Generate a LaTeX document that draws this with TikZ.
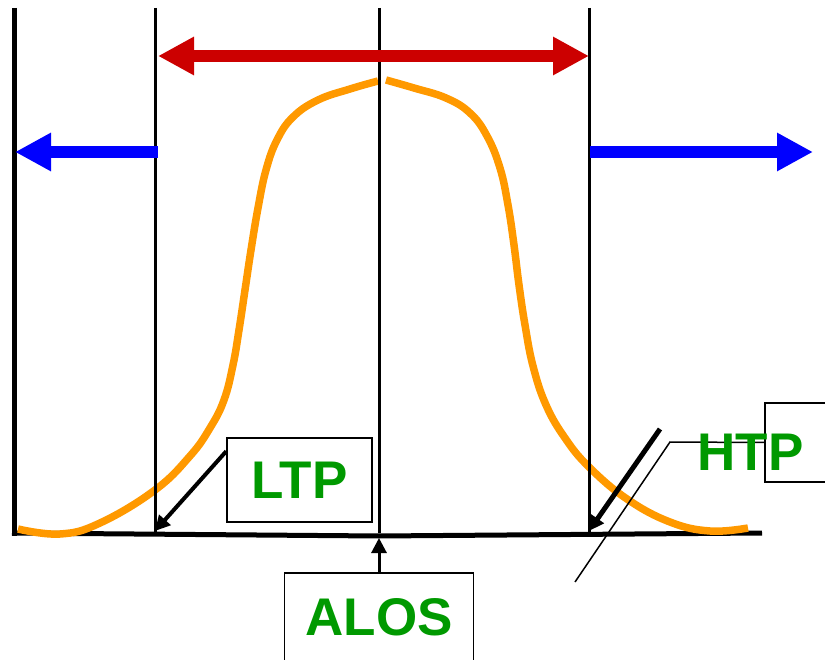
\documentclass[tikz,border=0pt]{standalone}
\usepackage{fontspec}
\setmainfont{Liberation Sans}
\usetikzlibrary{arrows.meta}
\definecolor{curveorange}{HTML}{FF9900}
\definecolor{spanred}{HTML}{CC0000}
\definecolor{shiftblue}{HTML}{0000FF}
\definecolor{labelgreen}{HTML}{009900}

\begin{document}
\begin{tikzpicture}[
  x=1pt, y=-1pt,
  every node/.style={font=\fontsize{53}{60}\selectfont\bfseries, text=labelgreen, inner sep=0pt},
  box/.style={draw=black, line width=1.5pt},
  wide/.style={line width=12pt, -{Triangle[length=36pt,width=36pt]}},
  span/.style={line width=12pt, {Triangle[length=36pt,width=36pt]}-{Triangle[length=36pt,width=36pt]}},
  ptr/.style={-{Triangle[length=15pt,width=15pt]}, draw=black},
  bell/.style={draw=curveorange, line width=7.5pt}
]
\clip (0,0) rectangle (825,660);
% axes
\draw[line width=5pt] (14,8) -- (14,536);
\draw[line width=5pt] (12,533) -- (379,536) -- (762,533);
% distribution
\draw[bell] plot[smooth, tension=0.7] coordinates {(18,529) (60,534) (100,523) (155,490) (190,456) (210,428) (224,400) (233,365) (239,330) (245,290) (251,250) (258,208) (266,170) (277,140) (293,117) (318,100) (350,89) (378,81)};
\draw[bell] plot[smooth, tension=0.7] coordinates {(386,80) (414,88) (446,98) (470,113) (487,136) (500,168) (508,205) (514,245) (519,285) (525,325) (533,366) (546,405) (565,438) (589,467) (627,499) (670,522) (710,531) (748,528)};
% limits
\foreach \xpos in {155,379,589}
  \draw[line width=3pt] (\xpos,8) -- (\xpos,533);
% arrows
\coordinate (spanleft) at (158,56);
\coordinate (spanright) at (589,56);
\coordinate (lowstart) at (158,152);
\coordinate (lowend) at (15,152);
\coordinate (highstart) at (590,152);
\coordinate (highend) at (813,152);
\draw[span, spanred] (spanleft) -- (spanright);
\draw[wide, shiftblue] (lowstart) -- (lowend);
\draw[wide, shiftblue] (highstart) -- (highend);
% labels
\node[box, minimum width=145pt, minimum height=84pt] (ltp) at (299.5,480) {LTP};
\node[box, minimum width=189pt, minimum height=88pt] (alos) at (379,617) {ALOS};
\node[box, minimum width=110pt, minimum height=79pt] (htpbox) at (820,442.5) {};
\coordinate (ltpfoot) at (155,531);
\coordinate (alosfoot) at (379,538);
\coordinate (htpfoot) at (589,531);
\coordinate (htptail) at (660,429);
\coordinate (leaderfoot) at (575,582);
\coordinate (leaderknee) at (670,442);
\draw[line width=1.5pt] (leaderfoot) -- (leaderknee) -- (htpbox.west);
\node (htp) at (750.5,452.5) {HTP};
\draw[ptr, line width=4pt] ([yshift=-14pt]ltp.north west) -- (ltpfoot);
\draw[ptr, line width=3pt] (alos) -- (alosfoot);
\draw[ptr, line width=5pt] (htptail) -- (htpfoot);
\end{tikzpicture}
\end{document}
